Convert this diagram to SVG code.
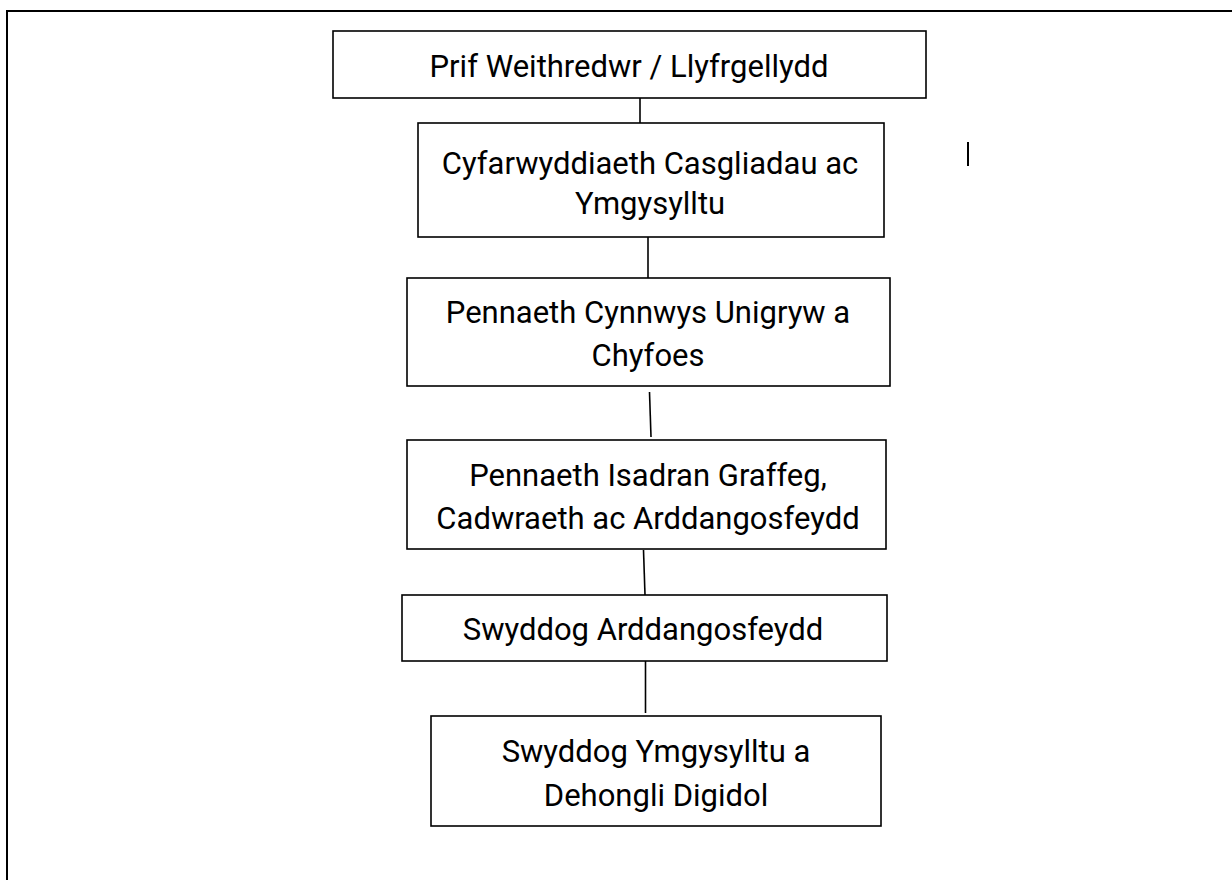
<svg xmlns="http://www.w3.org/2000/svg" width="1232" height="880" viewBox="0 0 1232 880">
<style>
.box{fill:#fff;stroke:#000;stroke-width:1.6}
.lbl{font-family:Roboto,"Noto Sans",sans-serif;font-size:31px;fill:#000;text-anchor:middle}
.con{stroke:#000;stroke-width:1.6;fill:none}
</style>
<rect width="1232" height="880" fill="#fff"/>
<path d="M7,880 V11 H1232" fill="none" stroke="#000" stroke-width="2"/>
<g id="connectors">
<line class="con" x1="640" y1="98" x2="640" y2="123"/>
<line class="con" x1="648" y1="237" x2="648" y2="278"/>
<line class="con" x1="649.5" y1="392" x2="651" y2="437"/>
<line class="con" x1="643.5" y1="550" x2="645" y2="595"/>
<line class="con" x1="645.5" y1="661" x2="645.5" y2="713"/>
</g>
<line x1="968" y1="142" x2="968" y2="166" stroke="#000" stroke-width="2"/>
<g id="n1"><rect class="box" x="333" y="31" width="593" height="67"/>
<text class="lbl" x="629" y="77">Prif Weithredwr / Llyfrgellydd</text></g>
<g id="n2"><rect class="box" x="418" y="123" width="466" height="114"/>
<text class="lbl" x="650" y="174">Cyfarwyddiaeth Casgliadau ac</text>
<text class="lbl" x="650" y="214">Ymgysylltu</text></g>
<g id="n3"><rect class="box" x="407" y="278" width="483" height="108"/>
<text class="lbl" x="648" y="323">Pennaeth Cynnwys Unigryw a</text>
<text class="lbl" x="648" y="366">Chyfoes</text></g>
<g id="n4"><rect class="box" x="407" y="440" width="479" height="109"/>
<text class="lbl" x="648" y="486">Pennaeth Isadran Graffeg,</text>
<text class="lbl" x="648" y="529">Cadwraeth ac Arddangosfeydd</text></g>
<g id="n5"><rect class="box" x="402" y="595" width="485" height="66"/>
<text class="lbl" x="643" y="640">Swyddog Arddangosfeydd</text></g>
<g id="n6"><rect class="box" x="431" y="716" width="450" height="110"/>
<text class="lbl" x="656" y="762">Swyddog Ymgysylltu a</text>
<text class="lbl" x="656" y="806">Dehongli Digidol</text></g>
</svg>
